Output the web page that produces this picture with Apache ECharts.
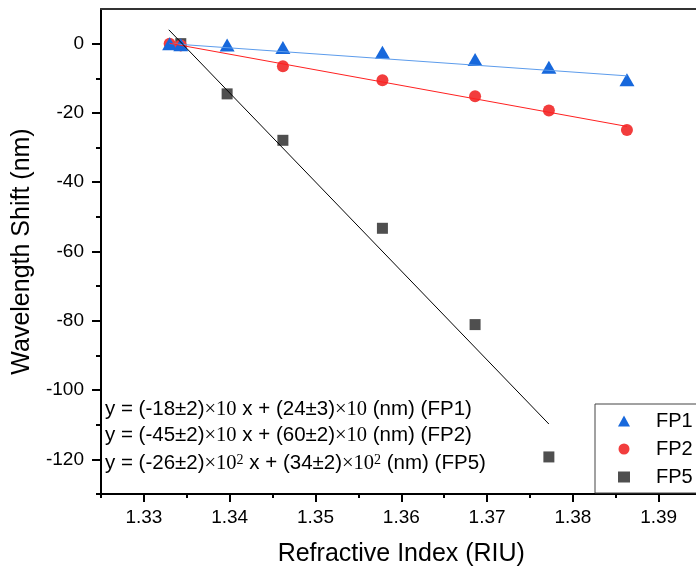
<!DOCTYPE html>
<html>
<head>
<meta charset="utf-8">
<script src="https://cdn.jsdelivr.net/npm/echarts@6/dist/echarts.min.js"></script>
<style>
  html, body { margin: 0; padding: 0; background: #fff; }
  #chart { width: 696px; height: 572px; }
</style>
</head>
<body>
<div id="chart"></div>
<script>
// Measured wavelength shifts versus refractive index for three sensors
const xFP1 = [1.3330, 1.3343, 1.3397, 1.3462, 1.3578, 1.3686, 1.3772, 1.3863];
const yFP1 = [0, -0.3, -0.4, -1.1, -2.5, -4.6, -6.8, -10.4];

const xFP2 = [1.3330, 1.3343, 1.3462, 1.3578, 1.3686, 1.3772, 1.3863];
const yFP2 = [0, -0.5, -6.5, -10.6, -15.2, -19.3, -24.9];

const xFP5 = [1.3343, 1.3397, 1.3462, 1.3578, 1.3686, 1.3772];
const yFP5 = [0, -14.5, -27.9, -53.3, -81.1, -119.3];

// Linear fit end points
const fitX1 = [1.3330, 1.3863];
const fitY1 = [0.0, -9.3];
const fitX2 = [1.3330, 1.3863];
const fitY2 = [0.1, -23.9];
const fitX5 = [1.3329, 1.3772];
const fitY5 = [4.0, -109.8];

// Axis ticks
const xMajorTicks = [1.33, 1.34, 1.35, 1.36, 1.37, 1.38, 1.39];
const xMinorTicks = [1.325, 1.335, 1.345, 1.355, 1.365, 1.375, 1.385];
const yMajorTicks = [0, -20, -40, -60, -80, -100, -120];
const yMinorTicks = [-130, -110, -90, -70, -50, -30, -10];

const seriesNames = ['FP1', 'FP2', 'FP5'];

// Fit equations
const eqFP1 = '{a|y = (-18±2)}{t|×10}{a| x + (24±3)}{t|×10}{a| (nm) (FP1)}';
const eqFP2 = '{a|y = (-45±2)}{t|×10}{a| x + (60±2)}{t|×10}{a| (nm) (FP2)}';
const eqFP5 = '{a|y = (-26±2)}{t|×10}{s|2}{a| x + (34±2)}{t|×10}{s|2}{a| (nm) (FP5)}';

const zip = (xs, ys) => xs.map((x, i) => [x, ys[i]]);

const SANS = 'Liberation Sans, Arial, sans-serif';
const SERIF = 'Liberation Serif, Times New Roman, serif';

const eqRich = {
  a: { fontFamily: SANS, fontSize: 20.5, color: '#000' },
  t: { fontFamily: SERIF, fontSize: 20.5, color: '#000' },
  s: { fontFamily: SERIF, fontSize: 14, color: '#000', verticalAlign: 'top' }
};

const chart = echarts.init(document.getElementById('chart'), null, { renderer: 'canvas' });

const X_MIN = 1.325, X_MAX = 1.395, Y_MIN = -130, Y_MAX = 10;

const option = {
  animation: false,
  backgroundColor: '#fff',
  grid: { left: 101, top: 9, width: 600.6, height: 485, outerBoundsMode: 'none', containLabel: false },
  xAxis: [
    {
      type: 'value', min: X_MIN, max: X_MAX, position: 'bottom',
      name: 'Refractive Index (RIU)', nameLocation: 'middle', nameGap: 48,
      nameTextStyle: { fontFamily: SANS, fontSize: 25, color: '#000' },
      axisLine: { show: true, onZero: false, lineStyle: { color: '#000', width: 2 } },
      axisTick: { show: true, inside: false, length: 8, customValues: xMajorTicks, lineStyle: { color: '#000', width: 2 } },
      axisLabel: { show: true, margin: 14, customValues: xMajorTicks, fontFamily: SANS, fontSize: 19, color: '#000',
                   formatter: v => v.toFixed(2) },
      splitLine: { show: false }
    },
    {
      // minor ticks along the bottom
      type: 'value', min: X_MIN, max: X_MAX, position: 'bottom',
      axisLine: { show: false, onZero: false },
      axisTick: { show: true, inside: false, length: 4, customValues: xMinorTicks, lineStyle: { color: '#000', width: 2 } },
      axisLabel: { show: false },
      splitLine: { show: false }
    },
    {
      // top frame line
      type: 'value', min: X_MIN, max: X_MAX, position: 'top',
      axisLine: { show: true, onZero: false, lineStyle: { color: '#333', width: 2 } },
      axisTick: { show: false }, axisLabel: { show: false }, splitLine: { show: false }
    }
  ],
  yAxis: [
    {
      type: 'value', min: Y_MIN, max: Y_MAX, position: 'left',
      name: 'Wavelength Shift (nm)', nameLocation: 'middle', nameGap: 55, nameRotate: 90,
      nameTextStyle: { fontFamily: SANS, fontSize: 25, color: '#000' },
      axisLine: { show: true, onZero: false, lineStyle: { color: '#000', width: 2 } },
      axisTick: { show: true, inside: false, length: 9, customValues: yMajorTicks, lineStyle: { color: '#000', width: 2 } },
      axisLabel: { show: true, margin: 17, customValues: yMajorTicks, fontFamily: SANS, fontSize: 19, color: '#000' },
      splitLine: { show: false }
    },
    {
      // minor ticks along the left side
      type: 'value', min: Y_MIN, max: Y_MAX, position: 'left',
      axisLine: { show: false, onZero: false },
      axisTick: { show: true, inside: false, length: 5, customValues: yMinorTicks, lineStyle: { color: '#000', width: 2 } },
      axisLabel: { show: false },
      splitLine: { show: false }
    }
  ],
  legend: {
    orient: 'vertical', left: 595, top: 404,
    padding: [7, 14, 6, 23],
    itemWidth: 12, itemHeight: 11, itemGap: 8,
    borderColor: '#444', borderWidth: 1, backgroundColor: '#fff',
    textStyle: { fontFamily: SANS, fontSize: 20, color: '#000', padding: [0, 0, 0, 21] },
    data: [
      { name: seriesNames[0], icon: 'triangle' },
      { name: seriesNames[1], icon: 'circle' },
      { name: seriesNames[2], icon: 'rect' }
    ]
  },
  series: [
    {
      name: seriesNames[2], type: 'scatter', symbol: 'rect', symbolSize: 11,
      itemStyle: { color: '#4f4f4f', opacity: 1 }, z: 3,
      data: zip(xFP5, yFP5)
    },
    {
      name: seriesNames[1], type: 'scatter', symbol: 'circle', symbolSize: 12,
      itemStyle: { color: '#f23d3d', opacity: 1 }, z: 4,
      data: zip(xFP2, yFP2)
    },
    {
      name: seriesNames[0], type: 'scatter', symbol: 'triangle', symbolSize: [15, 13],
      itemStyle: { color: '#1768dc', opacity: 1 }, z: 5,
      data: zip(xFP1, yFP1)
    },
    {
      name: 'fit FP1', type: 'line', showSymbol: false, symbol: 'none', silent: true, z: 6,
      lineStyle: { color: '#5c9cec', width: 1 },
      data: zip(fitX1, fitY1)
    },
    {
      name: 'fit FP2', type: 'line', showSymbol: false, symbol: 'none', silent: true, z: 6,
      lineStyle: { color: '#ff2020', width: 1 },
      data: zip(fitX2, fitY2)
    },
    {
      name: 'fit FP5', type: 'line', showSymbol: false, symbol: 'none', silent: true, z: 6,
      lineStyle: { color: '#000', width: 1 },
      data: zip(fitX5, fitY5)
    }
  ],
  graphic: [
    { type: 'text', left: 105, top: 399, style: { text: eqFP1, rich: eqRich } },
    { type: 'text', left: 105, top: 425, style: { text: eqFP2, rich: eqRich } },
    { type: 'text', left: 105, top: 453, style: { text: eqFP5, rich: eqRich } }
  ]
};

chart.setOption(option);
</script>
</body>
</html>
